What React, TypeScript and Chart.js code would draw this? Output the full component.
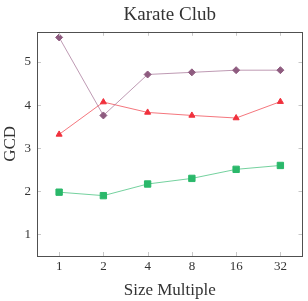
import React, { useEffect, useRef } from "react";
import { Chart, registerables } from "chart.js";

Chart.register(...registerables);

const categories = ["1", "2", "4", "8", "16", "32"];
const purpleSeries = [5.57, 3.76, 4.71, 4.76, 4.81, 4.81];
const redSeries = [3.32, 4.07, 3.83, 3.76, 3.7, 4.08];
const greenSeries = [1.98, 1.9, 2.17, 2.3, 2.51, 2.6];
const yTicks = [1, 2, 3, 4, 5];

const SERIF = "'Liberation Serif', 'Times New Roman', serif";

const framePlugin = {
  id: "frameTicks",
  afterDatasetsDraw(chart: any) {
    const { ctx, chartArea } = chart;
    const { left, right, top, bottom } = chartArea;
    const xs = chart.scales.x;
    const ys = chart.scales.y;
    ctx.save();
    ctx.strokeStyle = "#c8c8c8";
    ctx.lineWidth = 1;
    const len = 4;
    ctx.beginPath();
    xs.ticks.forEach((_t: any, i: number) => {
      const x = Math.round(xs.getPixelForTick(i)) + 0.5;
      ctx.moveTo(x, top);
      ctx.lineTo(x, top + len);
      ctx.moveTo(x, bottom);
      ctx.lineTo(x, bottom - len);
    });
    ys.ticks.forEach((t: any) => {
      const y = Math.round(ys.getPixelForValue(t.value)) + 0.5;
      ctx.moveTo(left, y);
      ctx.lineTo(left + len, y);
      ctx.moveTo(right, y);
      ctx.lineTo(right - len, y);
    });
    ctx.stroke();
    ctx.strokeStyle = "#505050";
    ctx.lineWidth = 1;
    ctx.strokeRect(Math.round(left) + 0.5, Math.round(top) + 0.5, Math.round(right - left) - 1, Math.round(bottom - top));
    ctx.restore();
  },
};

export default function App() {
  const ref = useRef<HTMLCanvasElement | null>(null);
  useEffect(() => {
    if (!ref.current) return;
    const chart = new Chart(ref.current, {
      type: "line",
      data: {
        labels: categories,
        datasets: [
          {
            label: "A",
            data: purpleSeries,
            borderColor: "rgba(155,100,138,0.65)",
            backgroundColor: "#8e5b7f",
            pointBackgroundColor: "#8e5b7f",
            pointBorderColor: "#8e5b7f",
            pointStyle: "rectRot",
            pointRadius: 3.5,
            borderWidth: 1,
          },
          {
            label: "B",
            data: redSeries,
            borderColor: "rgba(240,60,70,0.7)",
            backgroundColor: "#f0303c",
            pointBackgroundColor: "#f0303c",
            pointBorderColor: "#f0303c",
            pointStyle: "triangle",
            pointRadius: 3.5,
            borderWidth: 1,
          },
          {
            label: "C",
            data: greenSeries,
            borderColor: "rgba(42,184,106,0.65)",
            backgroundColor: "#2ab86a",
            pointBackgroundColor: "#2ab86a",
            pointBorderColor: "#2ab86a",
            pointStyle: "rect",
            pointRadius: 4.5,
            borderWidth: 1,
          },
        ],
      },
      options: {
        animation: false,
        responsive: false,
        maintainAspectRatio: false,
        layout: { padding: { right: 1, left: 0, top: 0, bottom: 0 } },
        plugins: {
          legend: { display: false },
          tooltip: { enabled: false },
          title: {
            display: true,
            text: "Karate Club",
            fullSize: false,
            color: "#333",
            font: { family: SERIF, size: 19, weight: "normal" },
            padding: { top: 4, bottom: 5 },
          },
        },
        scales: {
          x: {
            type: "category",
            offset: true,
            grid: { display: false, drawTicks: false },
            border: { display: false },
            ticks: {
              color: "#333",
              font: { family: SERIF, size: 13 },
              padding: 3,
              maxRotation: 0,
            },
            title: {
              display: true,
              text: "Size Multiple",
              color: "#333",
              font: { family: SERIF, size: 17 },
              padding: { top: 3, bottom: 0 },
            },
            afterFit(scale: any) {
              scale.height = 45;
            },
          },
          y: {
            type: "linear",
            min: 0.5,
            max: 5.7,
            grid: { display: false, drawTicks: false },
            border: { display: false },
            afterBuildTicks(scale: any) {
              scale.ticks = yTicks.map((v) => ({ value: v }));
            },
            ticks: {
              color: "#333",
              font: { family: SERIF, size: 13 },
              padding: 6,
            },
            title: {
              display: true,
              text: "GCD",
              color: "#333",
              font: { family: SERIF, size: 17 },
              padding: { top: 0, bottom: 2 },
            },
            afterFit(scale: any) {
              scale.width = 37;
            },
          },
        },
      },
      plugins: [framePlugin],
    });
    return () => chart.destroy();
  }, []);
  return (
    <div style={{ position: "fixed", left: 0, top: 0, width: 308, height: 301, background: "#fff" }}>
      <canvas ref={ref} width={308} height={301} style={{ display: "block", width: 308, height: 301 }} />
    </div>
  );
}
